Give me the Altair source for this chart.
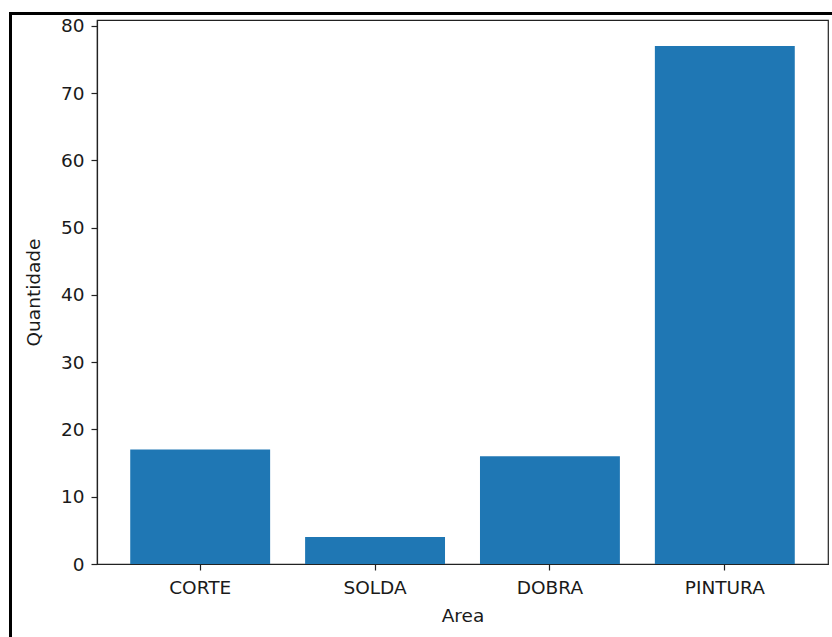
import altair as alt
import pandas as pd

# Quantidade por área
areas = ["CORTE", "SOLDA", "DOBRA", "PINTURA"]
quantidades = [17, 4, 16, 77]
y_ticks = [0, 10, 20, 30, 40, 50, 60, 70, 80]

df = pd.DataFrame({"Area": areas, "Quantidade": quantidades})

FONT = "DejaVu Sans"
TEXT = "#1a1a1a"

bars = alt.Chart(df).mark_bar(color="#1f77b4").encode(
    x=alt.X(
        "Area:N",
        sort=areas,
        scale=alt.Scale(paddingInner=0.2, paddingOuter=0.19),
        axis=alt.Axis(
            title="Area",
            labelAngle=0,
            tickSize=6,
            labelPadding=8,
            titlePadding=10,
        ),
    ),
    y=alt.Y(
        "Quantidade:Q",
        scale=alt.Scale(domain=[0, max(quantidades) * 1.05], nice=False, zero=True),
        axis=alt.Axis(
            title="Quantidade",
            values=y_ticks,
            tickSize=6,
            labelPadding=7,
            titlePadding=17,
        ),
    ),
)

# Frame lines along the top and left edges of the figure
frame = alt.Data(values=[{"k": 0}])
frame_top = alt.Chart(frame).mark_rule(color="black", strokeWidth=3).encode(
    x=alt.value(-88), x2=alt.value(740), y=alt.value(-6.5)
)
frame_left = alt.Chart(frame).mark_rule(color="black", strokeWidth=3).encode(
    x=alt.value(-86.5), y=alt.value(-8), y2=alt.value(620)
)

chart = (
    alt.layer(bars, frame_top, frame_left)
    .properties(
        width=731,
        height=544,
        padding={"left": 97, "top": 20, "right": 4, "bottom": 73},
        autosize=alt.AutoSizeParams(type="none"),
        background="white",
    )
    .configure_view(stroke="#222", strokeWidth=1.2)
    .configure_axis(
        grid=False,
        domainColor="#222",
        domainWidth=1.2,
        tickColor="#222",
        tickWidth=1.2,
        labelFont=FONT,
        labelFontSize=18.5,
        labelColor=TEXT,
        titleFont=FONT,
        titleFontSize=18.5,
        titleFontWeight="normal",
        titleColor=TEXT,
    )
)

chart.save("out.html", embed_options={"renderer": "svg", "actions": False})
